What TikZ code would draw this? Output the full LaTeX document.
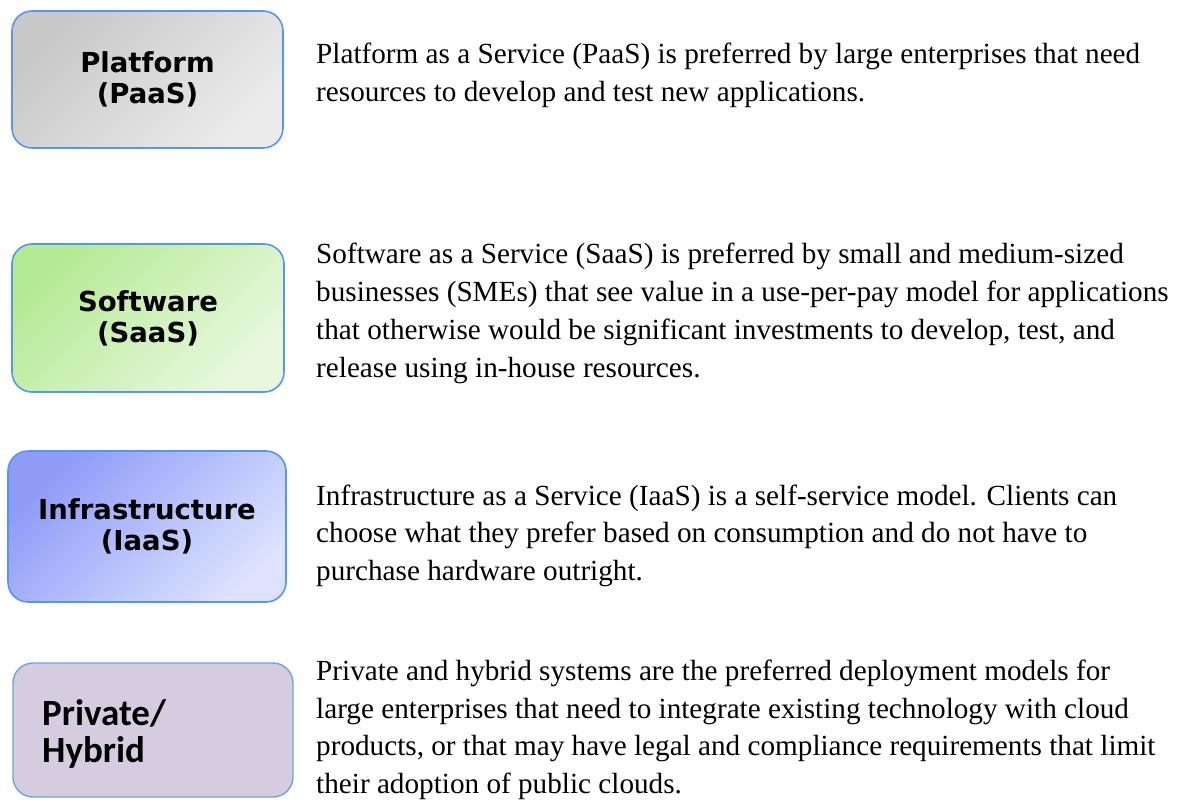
\documentclass[tikz,border=0pt]{standalone}
\usepackage{fontspec}
\setmainfont{Liberation Serif}
\newfontfamily\boxfont{DejaVu Sans}
\newfontfamily\calfont{Carlito}
\definecolor{bordblue}{HTML}{5496F2}
\definecolor{bordblue2}{HTML}{6FA3DC}
\definecolor{grayA}{HTML}{C8C8C8}
\definecolor{grayB}{HTML}{EBEBEB}
\definecolor{greenA}{HTML}{B5EA95}
\definecolor{greenB}{HTML}{E8F8DE}
\definecolor{blueA}{HTML}{8E9BF7}
\definecolor{blueB}{HTML}{DCE2FF}
\definecolor{lavender}{HTML}{D6CCE0}
\tikzset{
  svcbox/.style={draw=bordblue, line width=1.6pt, rounded corners=20pt,
    align=center, font=\boxfont\bfseries\fontsize{27.5}{31}\selectfont, inner sep=0pt},
  desc/.style={anchor=base west, inner sep=0pt, font=\fontsize{29.2}{38}\selectfont}
}
\begin{document}
\begin{tikzpicture}[x=1pt,y=-1pt]
\useasboundingbox (0,0) rectangle (1179,801);
% boxes
\node[svcbox, top color=grayA, bottom color=grayB, shading angle=45,
      minimum width=271pt, minimum height=137pt] (plat) at (147.5,79.5) {Platform\\(PaaS)};
\node[svcbox, top color=greenA, bottom color=greenB, shading angle=45,
      minimum width=272pt, minimum height=148pt] (soft) at (148,318) {Software\\(SaaS)};
\node[svcbox, top color=blueA, bottom color=blueB, shading angle=45,
      minimum width=278pt, minimum height=151pt] (infra) at (147,526.5) {Infrastructure\\(IaaS)};
\node[draw=bordblue2, line width=1.4pt, rounded corners=20pt, fill=lavender,
      minimum width=280pt, minimum height=134pt, inner sep=0pt] (priv) at (153,730) {};
\node[anchor=base west, inner sep=0pt, font=\calfont\bfseries\fontsize{37}{37}\selectfont] (privA) at (42,725) {Private/};
\node[anchor=base west, inner sep=0pt, font=\calfont\bfseries\fontsize{37}{37}\selectfont] (privB) at (42,762) {Hybrid};
% descriptions
\node[desc] (p1a) at (316,63) {Platform as a Service (PaaS) is preferred by large enterprises that need};
\node[desc] (p1b) at (316,101) {resources to develop and test new applications.};
\node[desc] (p2a) at (316,263) {Software as a Service (SaaS) is preferred by small and medium-sized};
\node[desc] (p2b) at (316,301) {businesses (SMEs) that see value in a use-per-pay model for applications};
\node[desc] (p2c) at (316,339) {that otherwise would be significant investments to develop, test, and};
\node[desc] (p2d) at (316,377) {release using in-house resources.};
\node[desc] (p3a) at (316,505) {Infrastructure as a Service (IaaS) is a self-service model. Clients can};
\node[desc] (p3b) at (316,542) {choose what they prefer based on consumption and do not have to};
\node[desc] (p3c) at (316,580) {purchase hardware outright.};
\node[desc] (p4a) at (316,680) {Private and hybrid systems are the preferred deployment models for};
\node[desc] (p4b) at (316,718) {large enterprises that need to integrate existing technology with cloud};
\node[desc] (p4c) at (316,755) {products, or that may have legal and compliance requirements that limit};
\node[desc] (p4d) at (316,793) {their adoption of public clouds.};
\end{tikzpicture}
\end{document}
